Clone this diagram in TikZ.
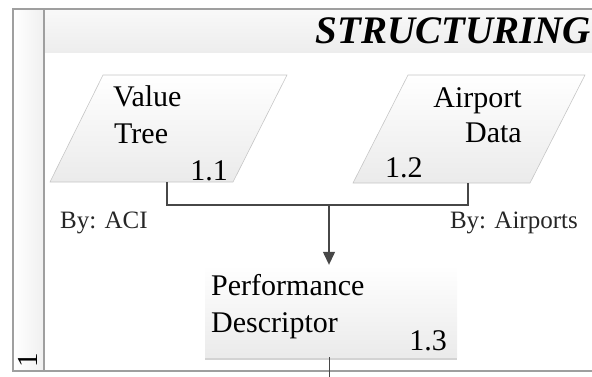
\documentclass[tikz,border=0pt]{standalone}
\usepackage{fontspec}
\setmainfont{Liberation Serif}
\usetikzlibrary{shadows,arrows.meta}

\begin{document}
\begin{tikzpicture}[x=1pt,y=-1pt,
  frameline/.style={draw=gray!75, line width=1.4pt},
  conn/.style={draw=black!72, line width=1.3pt},
  dataio/.style={draw=gray!45, line width=0.6pt, top color=white, bottom color=gray!16},
  procbox/.style={rectangle, draw=none, top color=white, bottom color=gray!16,
    minimum width=252pt, minimum height=92pt, inner sep=0pt,
    drop shadow={shadow xshift=0pt, shadow yshift=-2.5pt, opacity=0.35}},
  lbl/.style={inner sep=0pt, font=\fontsize{30}{36}\selectfont},
  note/.style={inner sep=0pt, font=\fontsize{25}{30}\selectfont, text=black!85},
  tip/.style={-{Triangle[width=12pt,length=13pt]}},
]
\useasboundingbox (0,0) rectangle (592,376);
\clip (0,0) rectangle (592,376);

% lane background: header band and side strip
\shade[top color=gray!5, bottom color=gray!14] (44,10) rectangle (600,52);
\shade[left color=white, right color=gray!12] (13,10) rectangle (44,371);

% lane frame
\draw[frameline] (600,9) -- (13,9) -- (13,371) -- (600,371);
\draw[frameline] (44,9) -- (44,371);

% lane title and number
\node[inner sep=0pt, anchor=base east, font=\fontsize{39}{44}\selectfont\bfseries\itshape]
  (title) at (591,43) {STRUCTURING};
\node[inner sep=0pt, anchor=base, rotate=90, font=\fontsize{29}{34}\selectfont]
  (lane) at (37,360) {1};

% data inputs (parallelograms)
\coordinate (vt-b) at (167,182);
\coordinate (ad-b) at (468,183);
\path[dataio] (50,182) -- (233,182) -- (287,75) -- (103,75) -- cycle;
\path[dataio] (353,183) -- (530,183) -- (585,75) -- (408,75) -- cycle;

\node[lbl, anchor=base west] (vt1) at (113,106) {Value};
\node[lbl, anchor=base west] (vt2) at (114,143) {Tree};
\node[lbl, anchor=base east] (vtn) at (228,180) {1.1};

\node[lbl, anchor=base east] (ad1) at (522,107) {Airport};
\node[lbl, anchor=base east] (ad2) at (522,142) {Data};
\node[lbl, anchor=base west] (adn) at (385,177) {1.2};

\node[note, anchor=base west] (by1) at (60,228) {By: ACI};
\node[note, anchor=base east] (by2) at (578,228) {By: Airports};

% process box
\node[procbox] (pd) at (331,311) {};
\node[lbl, anchor=base west] (pd1) at (211,295) {Performance};
\node[lbl, anchor=base west] (pd2) at (211,332) {Descriptor};
\node[lbl, anchor=base east] (pdn) at (447,350) {1.3};

% connectors
\coordinate (j) at (329,205);
\coordinate (out) at (329,380);
\draw[conn] (vt-b) -- (vt-b |- j) -- (ad-b |- j) -- (ad-b);
\draw[conn, tip] (j) -- (j |- pd.north);
\draw[conn, line width=1pt] (j |- pd.south) -- (out);
\end{tikzpicture}
\end{document}
